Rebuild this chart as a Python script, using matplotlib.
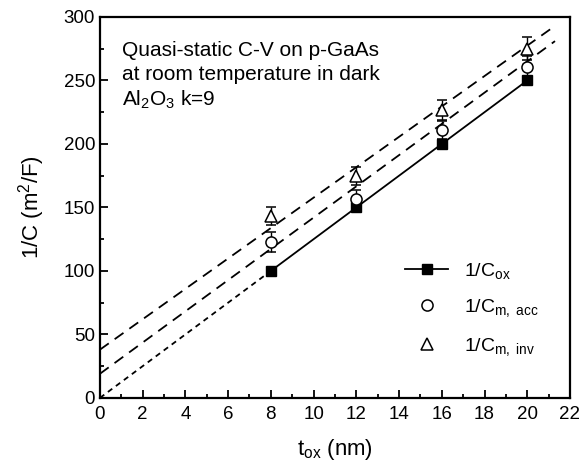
import numpy as np
import matplotlib
matplotlib.use('Agg')
import matplotlib.pyplot as plt
from matplotlib.ticker import MultipleLocator

plt.rcParams['font.family'] = ['Liberation Sans', 'DejaVu Sans']
plt.rcParams['mathtext.fontset'] = 'custom'
plt.rcParams['mathtext.rm'] = 'Liberation Sans'
plt.rcParams['mathtext.it'] = 'Liberation Sans'

# data
t_ox = [8, 12, 16, 20]
inv_cox = [100, 150, 200, 250]
inv_cm_acc = [123, 157, 211, 261]
inv_cm_acc_err = [8, 7, 7, 8]
inv_cm_inv = [143, 175, 227, 275]
inv_cm_inv_err = [7, 7, 8, 9]

# fitted lines (extrapolated to t_ox = 0)
fit_x = [0, 21.3]
acc_fit = [19, 281]
inv_fit = [38, 293]
ox_extrap_x = [0, 8]
ox_extrap = [0, 100]

fig = plt.figure(figsize=(5.81, 4.72), dpi=100)
ax = fig.add_axes([0.172, 0.157, 0.809, 0.807])

ax.plot(ox_extrap_x, ox_extrap, color='black', lw=1.3, ls=(0, (3, 2.5)))
ax.plot(fit_x, acc_fit, color='black', lw=1.3, ls=(0, (6, 4)))
ax.plot(fit_x, inv_fit, color='black', lw=1.3, ls=(0, (6, 4)))

ax.plot(t_ox, inv_cox, color='black', lw=1.3, marker='s', ms=7,
        mfc='black', label='1/C$_{\\rm ox}$')

ax.errorbar(t_ox, inv_cm_acc, yerr=inv_cm_acc_err, fmt='none',
            ecolor='black', elinewidth=1, capsize=3.5, capthick=1.1)
ax.plot(t_ox, inv_cm_acc, 'o', ms=8, mfc='white', mec='black', mew=1.1,
        label='1/C$_{\\rm m,\\ acc}$')
ax.errorbar(t_ox, inv_cm_inv, yerr=inv_cm_inv_err, fmt='none',
            ecolor='black', elinewidth=1, capsize=3.5, capthick=1.1)
ax.plot(t_ox, inv_cm_inv, '^', ms=9, mfc='white', mec='black', mew=1.1,
        label='1/C$_{\\rm m,\\ inv}$')

ax.set_xlim(0, 22)
ax.set_ylim(0, 300)
ax.xaxis.set_major_locator(MultipleLocator(2))
ax.xaxis.set_minor_locator(MultipleLocator(1))
ax.yaxis.set_major_locator(MultipleLocator(50))
ax.yaxis.set_minor_locator(MultipleLocator(25))
ax.tick_params(which='both', direction='in', top=False, right=False,
               labelsize=13.5, width=1.3)
ax.tick_params(which='major', length=6)
ax.tick_params(which='minor', length=3)
ax.tick_params(axis='x', pad=6)
for s in ax.spines.values():
    s.set_linewidth(1.6)

ax.set_xlabel('t$_{\\rm ox}$ (nm)', fontsize=16, labelpad=10)
ax.set_ylabel('1/C (m$^2$/F)', fontsize=16, labelpad=12)

ax.text(1.05, 281, 'Quasi-static C-V on p-GaAs\nat room temperature in dark\nAl$_2$O$_3$ k=9',
        fontsize=15, va='top', ha='left', linespacing=1.3)

handles, labels = ax.get_legend_handles_labels()
leg = ax.legend(handles, labels, loc='lower right', bbox_to_anchor=(0.97, 0.06),
                frameon=False, fontsize=14, handlelength=2.2, labelspacing=0.85)

fig.savefig('out.png', dpi=100)
